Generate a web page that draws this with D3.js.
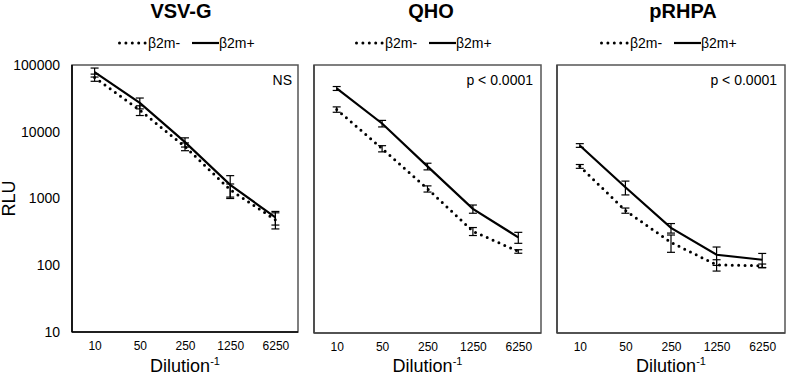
<!DOCTYPE html>
<html>
<head>
<meta charset="utf-8">
<script src="https://cdn.jsdelivr.net/npm/d3@7"></script>
<style>
  body { margin: 0; background: #fff; }
  svg { display: block; font-family: Arial, "Liberation Sans", sans-serif; }
</style>
</head>
<body>
<svg id="chart" width="787" height="377"></svg>
<script>
// ---- data ----
const categories = ["10", "50", "250", "1250", "6250"];
const yTicks = [10, 100, 1000, 10000, 100000];
const panelTitles = ["VSV-G", "QHO", "pRHPA"];
const panelNotes = ["NS", "p < 0.0001", "p < 0.0001"];
const seriesNames = ["β2m-", "β2m+"];

// VSV-G
const vsvMinus = [65000, 21000, 6000, 1350, 480];
const vsvMinusErr = [8000, 3500, 800, 300, 130];
const vsvPlus = [78000, 27000, 7000, 1600, 520];
const vsvPlusErr = [12000, 5000, 1100, 600, 120];
// QHO
const qhoMinus = [21700, 5650, 1420, 330, 165];
const qhoMinusErr = [2000, 600, 150, 45, 10];
const qhoPlus = [44700, 13400, 3070, 713, 268];
const qhoPlusErr = [3000, 1500, 350, 100, 50];
// pRHPA
const rhpaMinus = [3070, 673, 225, 104, 101];
const rhpaMinusErr = [200, 60, 65, 20, 6];
const rhpaPlus = [6300, 1500, 370, 147, 124];
const rhpaPlusErr = [400, 350, 60, 45, 30];

const panels = [
  { title: panelTitles[0], note: panelNotes[0], minus: vsvMinus, minusErr: vsvMinusErr, plus: vsvPlus, plusErr: vsvPlusErr,
    left: 72, right: 298, bottom: 332, titleX: 181, legendX: 118, showY: true },
  { title: panelTitles[1], note: panelNotes[1], minus: qhoMinus, minusErr: qhoMinusErr, plus: qhoPlus, plusErr: qhoPlusErr,
    left: 314, right: 541, bottom: 333, titleX: 431, legendX: 355, showY: false },
  { title: panelTitles[2], note: panelNotes[2], minus: rhpaMinus, minusErr: rhpaMinusErr, plus: rhpaPlus, plusErr: rhpaPlusErr,
    left: 557, right: 785, bottom: 333, titleX: 683, legendX: 600, showY: false }
];

const svg = d3.select("#chart");
const plotTop = 65;

panels.forEach((p, pi) => {
  const g = svg.append("g");
  const y = d3.scaleLog().domain([10, 100000]).range([p.bottom, plotTop]);
  const x = d3.scalePoint().domain(categories).range([p.left, p.right]).padding(0.5);

  // frame
  g.append("rect")
    .attr("x", p.left).attr("y", plotTop)
    .attr("width", p.right - p.left).attr("height", p.bottom - plotTop)
    .attr("fill", "none").attr("stroke", "#555").attr("stroke-width", 1.5);

  // axes lines (left & bottom)
  g.append("line").attr("x1", p.left).attr("x2", p.left).attr("y1", plotTop).attr("y2", p.bottom)
    .attr("stroke", pi === 0 ? "#000" : "#444").attr("stroke-width", 1.6);
  g.append("line").attr("x1", p.left).attr("x2", p.right).attr("y1", p.bottom).attr("y2", p.bottom)
    .attr("stroke", pi === 0 ? "#000" : "#444").attr("stroke-width", 1.6);

  // x axis
  const xa = g.append("g").attr("transform", `translate(0,${p.bottom})`)
    .call(d3.axisBottom(x).tickSize(0).tickPadding(9));
  xa.select(".domain").remove();
  xa.selectAll("text").attr("font-size", "12px").attr("fill", "#000")
    .attr("font-family", "Arial, 'Liberation Sans', sans-serif");

  // x label
  const cx = (p.left + p.right) / 2;
  const xl = g.append("text").attr("x", cx).attr("y", 372).attr("text-anchor", "middle")
    .attr("font-size", "18px").attr("fill", "#000");
  xl.append("tspan").text("Dilution");
  xl.append("tspan").attr("dy", -7).attr("font-size", "11px").text("-1");

  // y axis
  if (p.showY) {
    const ya = g.append("g").attr("transform", `translate(${p.left},0)`)
      .call(d3.axisLeft(y).tickValues(yTicks).tickFormat(d3.format("d")).tickSize(0).tickPadding(12));
    ya.select(".domain").remove();
    ya.selectAll("text").attr("font-size", "14px").attr("fill", "#000")
      .attr("font-family", "Arial, 'Liberation Sans', sans-serif");
    svg.append("text").attr("transform", `translate(15,${(plotTop + p.bottom) / 2}) rotate(-90)`)
      .attr("text-anchor", "middle").attr("font-size", "18px").attr("fill", "#000").text("RLU");
  }

  // title
  g.append("text").attr("x", p.titleX).attr("y", 17.5).attr("text-anchor", "middle")
    .attr("font-size", "20px").attr("font-weight", "bold").attr("fill", "#000").text(p.title);

  // legend
  const ly = 43;
  g.append("line").attr("x1", p.legendX + 1.5).attr("x2", p.legendX + 28).attr("y1", ly).attr("y2", ly)
    .attr("stroke", "#000").attr("stroke-width", 3).attr("stroke-linecap", "round").attr("stroke-dasharray", "0 6.4");
  g.append("text").attr("x", p.legendX + 30).attr("y", ly + 5).attr("font-size", "14px").attr("fill", "#000").text(seriesNames[0]);
  g.append("line").attr("x1", p.legendX + 74).attr("x2", p.legendX + 101).attr("y1", ly).attr("y2", ly)
    .attr("stroke", "#000").attr("stroke-width", 2.2);
  g.append("text").attr("x", p.legendX + 101).attr("y", ly + 5).attr("font-size", "14px").attr("fill", "#000").text(seriesNames[1]);

  // note
  g.append("text").attr("x", pi === 0 ? p.right - 6 : p.right - 8).attr("y", 85).attr("text-anchor", "end")
    .attr("font-size", "14px").attr("fill", "#000").text(p.note);

  const line = d3.line().x((d, i) => x(categories[i])).y(d => y(d));

  // error bars
  const drawErr = (vals, errs) => {
    vals.forEach((v, i) => {
      const xx = x(categories[i]);
      const y1 = y(v + errs[i]), y2 = y(Math.max(v - errs[i], 10.5));
      g.append("line").attr("x1", xx).attr("x2", xx).attr("y1", y1).attr("y2", y2)
        .attr("stroke", "#000").attr("stroke-width", 1.2);
      [y1, y2].forEach(yy => g.append("line").attr("x1", xx - 4).attr("x2", xx + 4).attr("y1", yy).attr("y2", yy)
        .attr("stroke", "#000").attr("stroke-width", 1.2));
    });
  };
  drawErr(p.minus, p.minusErr);
  drawErr(p.plus, p.plusErr);

  // dotted series
  g.append("path").datum(p.minus).attr("d", line).attr("fill", "none")
    .attr("stroke", "#000").attr("stroke-width", 3).attr("stroke-linecap", "round").attr("stroke-dasharray", "0 6.4");
  // solid series
  g.append("path").datum(p.plus).attr("d", line).attr("fill", "none")
    .attr("stroke", "#000").attr("stroke-width", 2.2);
});
</script>
</body>
</html>
